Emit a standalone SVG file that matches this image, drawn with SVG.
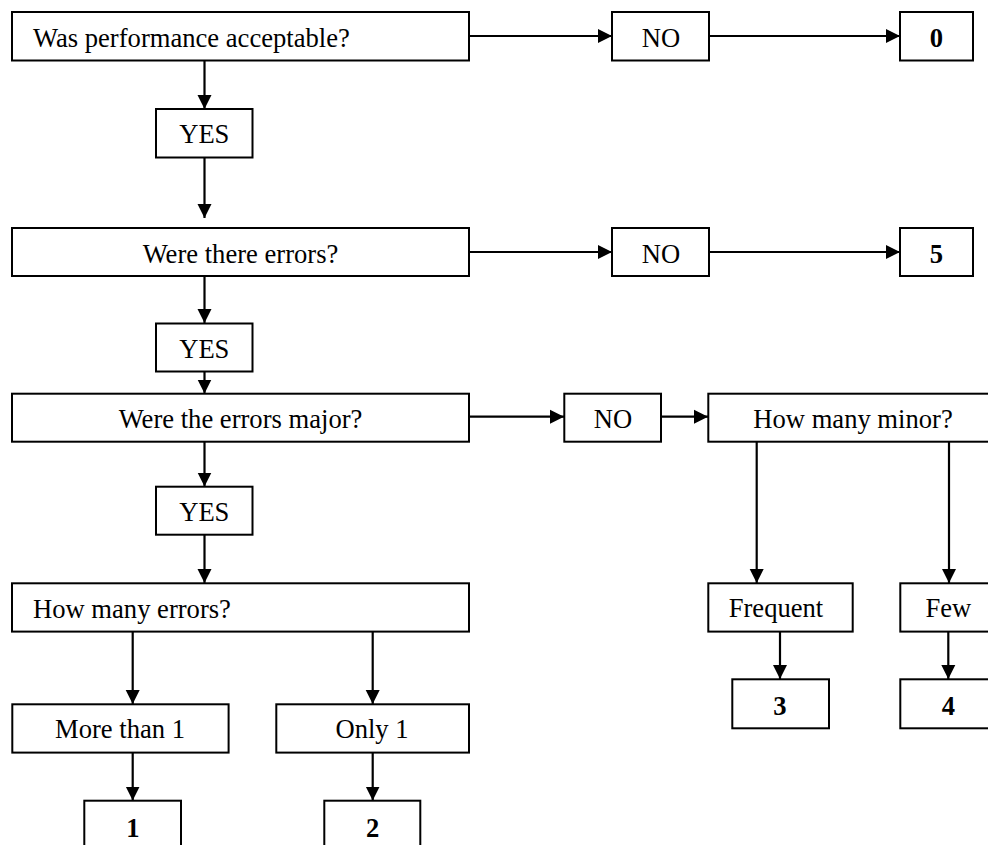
<svg xmlns="http://www.w3.org/2000/svg" width="988" height="845" viewBox="0 0 988 845">
<defs>
<marker id="ah" markerUnits="userSpaceOnUse" markerWidth="15" markerHeight="15" refX="14" refY="7.5" orient="auto">
<path d="M0,0.5 L14,7.5 L0,14.5 Z" fill="#000"/>
</marker>
<style>
rect{fill:#fff;stroke:#000;stroke-width:2}
text{font-family:"Liberation Serif","Times New Roman",serif;font-size:26.6px;fill:#000}
.c{text-anchor:middle}
.b{font-weight:bold}
#edges line{stroke:#000;stroke-width:2.2;marker-end:url(#ah)}
</style>
</defs>
<rect x="0" y="0" width="988" height="845" style="stroke:none"/>
<g id="edges">
<line x1="204.5" y1="61" x2="204.5" y2="109"/>
<line x1="204.5" y1="157" x2="204.5" y2="218"/>
<line x1="204.5" y1="276" x2="204.5" y2="323"/>
<line x1="204.5" y1="372" x2="204.5" y2="393.5"/>
<line x1="204.5" y1="442" x2="204.5" y2="486.5"/>
<line x1="204.5" y1="535" x2="204.5" y2="583"/>
<line x1="132.7" y1="632" x2="132.7" y2="704"/>
<line x1="372.7" y1="632" x2="372.7" y2="704"/>
<line x1="132.7" y1="753" x2="132.7" y2="800.5"/>
<line x1="372.7" y1="753" x2="372.7" y2="800.5"/>
<line x1="469" y1="36" x2="612" y2="36"/>
<line x1="709" y1="36" x2="900" y2="36"/>
<line x1="469" y1="252" x2="612" y2="252"/>
<line x1="709" y1="252" x2="900" y2="252"/>
<line x1="469" y1="416.7" x2="564" y2="416.7"/>
<line x1="661" y1="416.7" x2="708" y2="416.7"/>
<line x1="756.7" y1="442" x2="756.7" y2="583"/>
<line x1="949" y1="442" x2="949" y2="583"/>
<line x1="780" y1="632" x2="780" y2="679"/>
<line x1="948.3" y1="632" x2="948.3" y2="679"/>
</g>
<g id="q1"><rect x="12" y="12" width="457" height="48.5"/><text x="33" y="46.7">Was performance acceptable?</text></g>
<g id="yes1"><rect x="156" y="109" width="96.5" height="48.5"/><text class="c" x="204.3" y="143.3">YES</text></g>
<g id="no1"><rect x="612" y="12" width="97" height="48.5"/><text class="c" x="661" y="46.7">NO</text></g>
<g id="r0"><rect x="900" y="12" width="73" height="48.5"/><text class="c b" x="936.5" y="46.7">0</text></g>
<g id="q2"><rect x="12" y="228" width="457" height="48"/><text class="c" x="240.5" y="262.7">Were there errors?</text></g>
<g id="no2"><rect x="612" y="228" width="97" height="48"/><text class="c" x="661" y="262.7">NO</text></g>
<g id="r5"><rect x="900" y="228" width="73" height="48"/><text class="c b" x="936.5" y="262.7">5</text></g>
<g id="yes2"><rect x="156" y="323.5" width="96.5" height="48"/><text class="c" x="204.3" y="358.3">YES</text></g>
<g id="q3"><rect x="12" y="393.7" width="457" height="48"/><text class="c" x="240.5" y="428.3">Were the errors major?</text></g>
<g id="no3"><rect x="564.3" y="393.7" width="96.7" height="48"/><text class="c" x="613" y="428.3">NO</text></g>
<g id="q5"><rect x="708.3" y="393.7" width="290" height="48"/><text class="c" x="853" y="428.3">How many minor?</text></g>
<g id="yes3"><rect x="156" y="486.7" width="96.5" height="48"/><text class="c" x="204.3" y="520.7">YES</text></g>
<g id="q4"><rect x="12" y="583.3" width="457" height="48.3"/><text x="33" y="617.7">How many errors?</text></g>
<g id="more"><rect x="12.3" y="704.3" width="216.3" height="48.3"/><text class="c" x="120" y="738.3">More than 1</text></g>
<g id="only"><rect x="276.3" y="704.3" width="192.7" height="48.3"/><text class="c" x="372" y="738.3">Only 1</text></g>
<g id="r1"><rect x="84.3" y="800.7" width="96.7" height="48"/><text class="c b" x="133" y="836.7">1</text></g>
<g id="r2"><rect x="324.3" y="800.7" width="96" height="48"/><text class="c b" x="372.7" y="836.7">2</text></g>
<g id="frequent"><rect x="708.3" y="583.3" width="144.4" height="48.3"/><text class="c" x="776" y="616.7">Frequent</text></g>
<g id="few"><rect x="900.3" y="583.3" width="96" height="48.3"/><text class="c" x="948.3" y="616.7">Few</text></g>
<g id="r3"><rect x="732.3" y="679.3" width="96.7" height="49"/><text class="c b" x="780" y="715">3</text></g>
<g id="r4"><rect x="900.3" y="679.3" width="96" height="49"/><text class="c b" x="948.3" y="715">4</text></g>
</svg>
